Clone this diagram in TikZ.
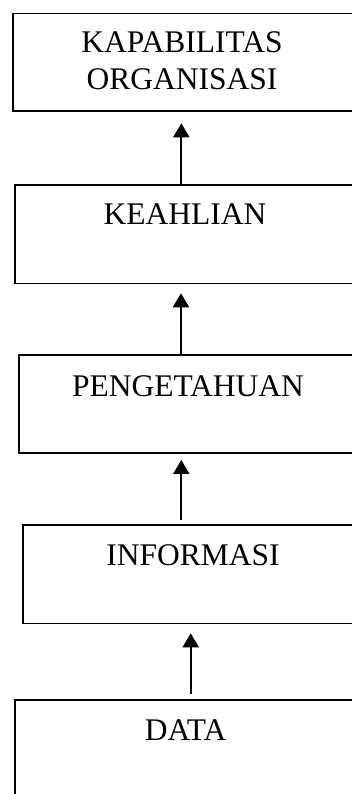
\documentclass[tikz,border=0pt]{standalone}
\usepackage{fontspec}
\setmainfont{Liberation Serif}
\usetikzlibrary{arrows.meta}
\begin{document}
\begin{tikzpicture}[x=1pt,y=-1pt,
  box/.style={draw,line width=1.6pt,inner sep=0pt,anchor=north west},
  lbl/.style={font=\fontsize{31.5}{37}\selectfont,inner sep=0pt,anchor=base},
  flow/.style={line width=2pt,-{Triangle[width=16pt,length=14pt]}}]
\useasboundingbox (0,0) rectangle (352,794);
\clip (0,0) rectangle (352,794);
\fill[white] (0,0) rectangle (352,794);
% boxes
\node[box,minimum width=346pt,minimum height=97.3pt] (b1) at (12,12.7) {};
\node[box,minimum width=344pt,minimum height=98.4pt] (b2) at (14,184.3) {};
\node[box,minimum width=340pt,minimum height=98pt] (b3) at (18,354.3) {};
\node[box,minimum width=342pt,minimum height=98.7pt] (b4) at (22,524) {};
\node[box,minimum width=344pt,minimum height=101pt] (b5) at (14,699) {};
% labels
\node[lbl] (t1a) at (182,53) {KAPABILITAS};
\node[lbl] (t1b) at (182,90) {ORGANISASI};
\node[lbl] (t2) at (185,225) {KEAHLIAN};
\node[lbl] (t3) at (188,396) {PENGETAHUAN};
\node[lbl] (t4) at (193,565) {INFORMASI};
\node[lbl] (t5) at (185.5,740) {DATA};
% arrow columns
\coordinate (c1) at (181.3,0);
\coordinate (c2) at (181,0);
\coordinate (c3) at (181.3,0);
\coordinate (c4) at (190.7,0);
% arrows
\draw[flow,shorten >=11.7pt] (b2.north -| c1) -- (b1.south -| c1);
\draw[flow,shorten >=9pt] (b3.north -| c2) -- (b2.south -| c2);
\draw[flow,shorten >=6pt,shorten <=4pt] (b4.north -| c3) -- (b3.south -| c3);
\draw[flow,shorten >=9pt,shorten <=5pt] (b5.north -| c4) -- (b4.south -| c4);
\end{tikzpicture}
\end{document}
